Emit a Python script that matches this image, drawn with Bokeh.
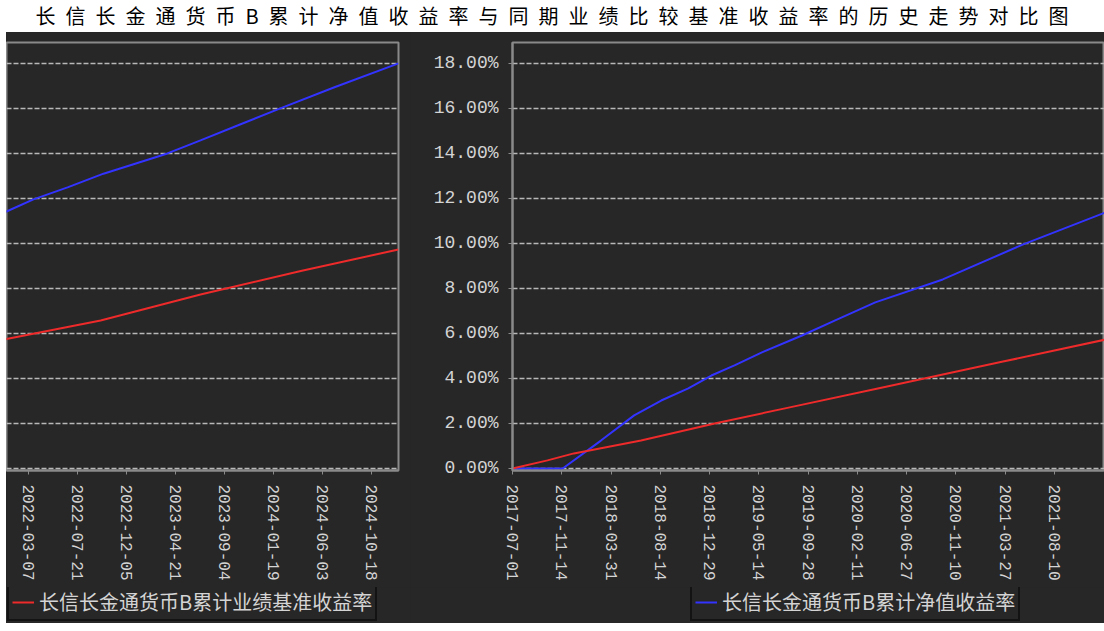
import pandas as pd
from bokeh.plotting import figure
from bokeh.layouts import column, row
from bokeh.models import (ColumnDataSource, Range1d, FixedTicker, DatetimeTickFormatter,
                          NumeralTickFormatter, Legend, LegendItem, Div, Spacer)
from bokeh.embed import file_html
from bokeh.resources import INLINE

# ---------------- data ----------------
title_text = "长信长金通货币B累计净值收益率与同期业绩比较基准收益率的历史走势对比图"
fund_name = "长信长金通货币B累计净值收益率"
bench_name = "长信长金通货币B累计业绩基准收益率"

fund_dates = ["2017-07-01", "2017-11-17", "2018-03-03", "2018-06-03", "2018-08-17",
              "2018-10-31", "2019-01-03", "2019-03-08", "2019-05-23", "2019-09-11",
              "2019-12-12", "2020-04-01", "2020-10-05", "2021-05-16", "2022-01-05",
              "2022-03-21", "2022-06-24", "2022-10-02", "2023-03-29", "2023-06-29",
              "2023-10-10", "2024-01-30", "2024-07-04", "2024-12-31"]
fund_values = [0.00, 0.00, 1.24, 2.36, 3.02,
               3.56, 4.13, 4.58, 5.16, 5.91,
               6.58, 7.38, 8.40, 9.96, 11.42,
               11.96, 12.49, 13.10, 14.00, 14.58,
               15.24, 15.96, 16.93, 18.00]

bench_dates = ["2017-07-01", "2017-10-06", "2017-12-18", "2018-06-22", "2019-01-12",
               "2019-07-26", "2020-04-21", "2021-03-21", "2022-01-05", "2022-09-24",
               "2023-06-29", "2024-04-03", "2024-12-31"]
bench_values = [0.00, 0.36, 0.67, 1.24, 2.00,
                2.67, 3.60, 4.75, 5.75, 6.58,
                7.73, 8.78, 9.73]

# tick labels (dates) of the two visible panels and the y ticks (percent)
right_ticks = ["2017-07-01", "2017-11-14", "2018-03-31", "2018-08-14", "2018-12-29",
               "2019-05-14", "2019-09-28", "2020-02-11", "2020-06-27", "2020-11-10",
               "2021-03-27", "2021-08-10"]
left_ticks = ["2022-03-07", "2022-07-21", "2022-12-05", "2023-04-21", "2023-09-04",
              "2024-01-19", "2024-06-03", "2024-10-18"]
y_ticks = [0, 2, 4, 6, 8, 10, 12, 14, 16, 18]

right_window = ("2017-07-01", "2021-12-27")
left_window = ("2022-01-05", "2024-12-31")

# ---------------- styling ----------------
BG = "#272727"
FRAME = "#8a8a8a"
TEXT = "#d4d4d4"
BLUE = "#3333ff"
RED = "#ee2a2a"

fund_src = ColumnDataSource(dict(x=pd.to_datetime(fund_dates), y=[v / 100 for v in fund_values]))
bench_src = ColumnDataSource(dict(x=pd.to_datetime(bench_dates), y=[v / 100 for v in bench_values]))


def to_ms(dates):
    return [pd.Timestamp(d).value / 1e6 for d in dates]


def make_fig(width, window, ticks, border_left, border_right):
    p = figure(width=width, height=555, x_axis_type="datetime",
               x_range=Range1d(pd.Timestamp(window[0]), pd.Timestamp(window[1])),
               y_range=Range1d(-0.0009, 0.1893),
               output_backend="svg", toolbar_location=None,
               background_fill_color=BG, border_fill_color=BG,
               min_border_left=border_left, min_border_right=border_right,
               min_border_top=10, min_border_bottom=117)
    p.outline_line_color = FRAME
    p.outline_line_width = 2
    p.xgrid.visible = False
    p.ygrid.ticker = FixedTicker(ticks=[v / 100 for v in y_ticks])
    p.ygrid.grid_line_color = "#b8b8b8"
    p.ygrid.grid_line_dash = "5 2"
    p.ygrid.grid_line_width = 1.5

    xa = p.xaxis[0]
    xa.ticker = FixedTicker(ticks=to_ms(ticks))
    fmt = "%Y-%m-%d"
    xa.formatter = DatetimeTickFormatter(days=fmt, months=fmt, years=fmt, hours=fmt,
                                         hourmin=fmt, minutes=fmt, seconds=fmt,
                                         milliseconds=fmt, minsec=fmt)
    xa.major_label_orientation = "vertical"
    xa.major_label_text_font = "Liberation Mono"
    xa.major_label_text_font_size = "16px"
    xa.major_label_text_color = TEXT
    xa.major_label_standoff = 10
    xa.axis_line_color = FRAME
    xa.axis_line_width = 2
    xa.major_tick_line_color = FRAME
    xa.major_tick_out = 4
    xa.major_tick_in = 0
    xa.minor_tick_line_color = None

    ya = p.yaxis[0]
    ya.ticker = FixedTicker(ticks=[v / 100 for v in y_ticks])
    ya.formatter = NumeralTickFormatter(format="0.00%")
    ya.major_label_text_font = "Liberation Mono"
    ya.major_label_text_font_size = "18px"
    ya.major_label_text_color = TEXT
    ya.major_label_standoff = 10
    ya.axis_line_color = FRAME
    ya.axis_line_width = 2
    ya.major_tick_line_color = FRAME
    ya.major_tick_out = 4
    ya.major_tick_in = 0
    ya.minor_tick_line_color = None

    p.line("x", "y", source=fund_src, line_color=BLUE, line_width=2)
    p.line("x", "y", source=bench_src, line_color=RED, line_width=2)
    return p


def legend_strip(width, color, label, loc):
    s = figure(width=width, height=36, x_range=Range1d(0, 1), y_range=Range1d(0, 1),
               output_backend="svg", toolbar_location=None,
               x_axis_location=None, y_axis_location=None,
               background_fill_color=BG, border_fill_color=BG,
               min_border_left=0, min_border_right=0, min_border_top=0, min_border_bottom=0)
    s.outline_line_color = None
    s.xgrid.visible = False
    s.ygrid.visible = False
    # off-screen sample so that the legend can draw its line glyph
    r = s.line(x=[-2, -1], y=[-2, -1], line_color=color, line_width=2)
    leg = Legend(items=[LegendItem(label=label, renderers=[r])],
                 orientation="horizontal", location=loc,
                 background_fill_color=BG, background_fill_alpha=1.0,
                 border_line_color="black", border_line_width=2,
                 label_text_font="Noto Sans CJK SC", label_text_font_size="20px",
                 label_text_color=TEXT, glyph_width=22, glyph_height=20,
                 label_height=22, padding=3, margin=0, spacing=10)
    s.add_layout(leg)
    return s


left = make_fig(404, left_window, left_ticks, 0, 12)
left.yaxis.visible = False
right = make_fig(694, right_window, right_ticks, 102, 0)

left_leg = legend_strip(404, RED, bench_name, (1, 2))
right_leg = legend_strip(694, BLUE, fund_name, (280, 2))

title = Div(text=title_text, width=1104, height=22,
            styles={"font-size": "20px", "font-family": "Noto Sans CJK SC",
                    "letter-spacing": "10px", "text-align": "center", "color": "#000000",
                    "line-height": "22px", "width": "1104px", "white-space": "nowrap"})

dark_block = column(row(left, right, spacing=0, styles={"background-color": BG}),
                    row(left_leg, right_leg, spacing=0, styles={"background-color": BG}),
                    spacing=0, styles={"background-color": BG})

layout = column(title,
                row(Spacer(width=6, height=591, styles={"background-color": "#ffffff"}),
                    dark_block, spacing=0),
                spacing=0)

open("out.html", "w").write(file_html(layout, INLINE))
